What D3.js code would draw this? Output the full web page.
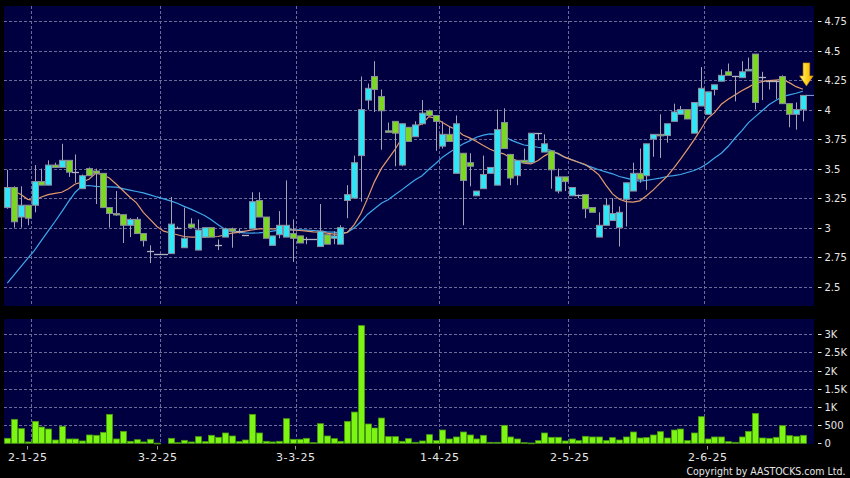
<!DOCTYPE html>
<html><head><meta charset="utf-8">
<script src="https://cdn.jsdelivr.net/npm/d3@7"></script>
<style>html,body{margin:0;padding:0;background:#000;}svg{display:block}</style>
</head><body>
<svg id="chart" width="850" height="478"></svg>
<script>
// ---------- DATA ----------
const dates = [
"2024-12-24","2024-12-27","2024-12-30","2024-12-31",
"2025-01-02","2025-01-03","2025-01-06","2025-01-07","2025-01-08","2025-01-09","2025-01-10","2025-01-13","2025-01-14","2025-01-15","2025-01-16","2025-01-17","2025-01-20","2025-01-21","2025-01-22","2025-01-23","2025-01-24","2025-01-27","2025-01-28",
"2025-02-03","2025-02-04","2025-02-05","2025-02-06","2025-02-07","2025-02-10","2025-02-11","2025-02-12","2025-02-13","2025-02-14","2025-02-17","2025-02-18","2025-02-19","2025-02-20","2025-02-21","2025-02-24","2025-02-25","2025-02-26","2025-02-27","2025-02-28",
"2025-03-03","2025-03-04","2025-03-05","2025-03-06","2025-03-07","2025-03-10","2025-03-11","2025-03-12","2025-03-13","2025-03-14","2025-03-17","2025-03-18","2025-03-19","2025-03-20","2025-03-21","2025-03-24","2025-03-25","2025-03-26","2025-03-27","2025-03-28","2025-03-31",
"2025-04-01","2025-04-02","2025-04-03","2025-04-07","2025-04-08","2025-04-09","2025-04-10","2025-04-11","2025-04-14","2025-04-15","2025-04-16","2025-04-17","2025-04-22","2025-04-23","2025-04-24","2025-04-25","2025-04-28","2025-04-29","2025-04-30",
"2025-05-02","2025-05-06","2025-05-07","2025-05-08","2025-05-09","2025-05-12","2025-05-13","2025-05-14","2025-05-15","2025-05-16","2025-05-19","2025-05-20","2025-05-21","2025-05-22","2025-05-23","2025-05-26","2025-05-27","2025-05-28","2025-05-29","2025-05-30",
"2025-06-02","2025-06-03","2025-06-04","2025-06-05","2025-06-06","2025-06-09","2025-06-10","2025-06-11","2025-06-12","2025-06-13","2025-06-16","2025-06-17","2025-06-18","2025-06-19","2025-06-20"
];
const open = [3.17,3.34,3.09,3.19,3.19,3.39,3.36,3.53,3.51,3.57,3.47,3.33,3.50,3.48,3.46,3.17,3.12,3.11,3.02,3.07,2.95,2.80,2.78,2.78,2.78,3.00,2.83,3.03,2.81,2.92,3.00,2.85,
2.92,2.99,2.97,2.94,2.99,3.23,3.09,2.85,2.94,2.92,2.95,2.93,2.90,2.90,2.84,2.94,2.91,2.86,3.23,3.25,3.61,4.08,4.28,4.11,3.82,3.90,
3.53,3.85,3.77,3.88,3.99,3.95,3.69,3.79,3.46,3.63,3.55,3.27,3.33,3.46,3.36,3.89,3.62,3.44,3.57,3.55,3.80,3.64,3.65,3.31,3.43,3.27,3.28,3.28,3.17,2.92,3.02,3.06,
3.00,3.24,3.31,3.46,3.44,3.75,3.79,3.78,3.90,3.96,4.00,3.80,4.03,3.96,4.17,4.24,4.32,4.285,4.27,4.33,4.47,4.28,4.245,4.245,4.28,4.05,3.96,4.00];
const high = [3.49,3.35,3.35,3.19,3.53,3.50,3.57,3.55,3.71,3.57,3.62,3.45,3.51,3.50,3.46,3.17,3.31,3.11,3.08,3.09,2.95,2.85,2.78,2.78,3.26,3.01,3.17,3.08,3.07,3.00,3.00,2.90,
3.00,3.00,2.99,2.94,3.30,3.30,3.09,2.93,3.14,3.40,3.07,2.93,2.92,2.90,3.20,2.94,2.97,3.02,3.36,3.61,4.28,4.22,4.41,4.17,3.89,3.90,
3.88,3.85,3.90,4.08,4.00,3.95,3.90,3.86,3.95,3.63,3.63,3.31,3.61,3.51,4.00,4.01,3.62,3.57,3.67,3.80,3.80,3.79,3.65,3.50,3.43,3.34,3.28,3.28,3.17,3.13,3.25,3.25,
3.18,3.38,3.55,3.67,3.71,3.79,3.96,3.88,4.05,4.03,4.00,4.06,4.36,4.15,4.21,4.34,4.39,4.285,4.41,4.44,4.47,4.32,4.245,4.245,4.29,4.05,4.06,4.12];
const low = [3.16,3.00,3.00,3.02,3.13,3.36,3.36,3.51,3.51,3.43,3.38,3.33,3.44,3.20,3.17,3.00,3.10,2.87,2.92,2.95,2.84,2.70,2.78,2.78,2.78,2.99,2.83,3.00,2.81,2.92,2.92,2.81,
2.92,2.83,2.95,2.94,2.99,3.09,2.91,2.85,2.91,2.92,2.71,2.87,2.86,2.90,2.84,2.86,2.86,2.86,3.08,3.25,3.22,4.00,3.98,3.66,3.81,3.52,
3.52,3.73,3.77,3.87,3.95,3.65,3.67,3.73,3.46,3.02,3.35,3.27,3.33,3.46,3.36,3.67,3.36,3.36,3.55,3.55,3.74,3.64,3.33,3.29,3.31,3.27,3.25,3.08,3.13,2.92,3.02,3.06,
2.84,3.01,3.31,3.38,3.32,3.60,3.59,3.72,3.90,3.96,3.92,3.80,4.03,3.96,4.12,4.24,4.29,4.07,4.27,4.33,4.00,4.08,4.17,4.09,4.05,3.85,3.83,3.90];
const close = [3.34,3.05,3.19,3.08,3.39,3.36,3.53,3.51,3.57,3.47,3.47,3.44,3.44,3.46,3.17,3.12,3.11,3.02,3.07,2.95,2.89,2.80,2.78,2.78,3.03,3.00,2.91,3.00,2.98,3.00,2.92,2.85,
2.99,2.97,2.97,2.94,3.22,3.09,2.91,2.93,3.02,3.02,2.91,2.87,2.90,2.90,2.97,2.86,2.93,3.00,3.28,3.55,4.00,4.18,4.17,3.99,3.81,3.80,
3.88,3.73,3.87,3.97,3.95,3.90,3.79,3.73,3.88,3.40,3.52,3.31,3.45,3.51,3.83,3.67,3.42,3.57,3.55,3.80,3.80,3.71,3.49,3.43,3.39,3.34,3.28,3.16,3.13,3.02,3.19,3.12,
3.13,3.38,3.46,3.41,3.71,3.79,3.78,3.88,3.98,4.00,3.92,4.06,4.18,4.15,4.21,4.29,4.29,4.285,4.32,4.34,4.06,4.28,4.245,4.245,4.05,3.96,4.00,4.12];
const volume = [137,659,403,37,604,448,393,91,467,119,119,64,229,220,302,796,119,329,55,100,37,110,5,0,137,18,82,37,183,46,220,165,
284,201,46,91,796,284,55,37,55,677,110,110,137,18,540,201,128,55,604,860,3239,531,421,695,183,183,
55,128,27,64,238,73,366,119,174,311,229,119,220,27,27,494,174,119,18,9,73,284,165,165,64,119,73,192,174,174,73,156,
91,174,311,146,156,229,320,146,366,393,73,284,732,119,174,174,46,27,174,329,823,146,137,165,485,210,192,220];
const ma10 = [3.205,3.31,3.28,3.24,3.23,3.26,3.28,3.29,3.30,3.33,3.37,3.385,3.41,3.46,3.45,3.42,3.37,3.315,3.26,3.21,3.13,3.07,3.01,2.97,2.955,2.94,2.925,2.92,2.92,2.92,2.923,2.925,
2.94,2.954,2.96,2.97,2.98,2.99,2.99,2.99,2.99,2.985,2.98,2.976,2.97,2.965,2.962,2.954,2.945,2.945,2.96,3.024,3.12,3.25,3.39,3.50,3.58,3.66,
3.757,3.81,3.855,3.88,3.94,3.926,3.89,3.856,3.83,3.785,3.76,3.73,3.695,3.664,3.64,3.625,3.59,3.566,3.546,3.54,3.566,3.608,3.64,3.63,3.597,3.574,3.554,3.535,3.495,3.447,3.363,3.286,
3.24,3.22,3.216,3.227,3.27,3.32,3.377,3.433,3.504,3.58,3.66,3.743,3.833,3.926,3.974,4.045,4.087,4.124,4.16,4.19,4.223,4.237,4.245,4.25,4.256,4.228,4.194,4.172];
const ma20 = [2.53,2.60,2.67,2.74,2.807,2.89,2.97,3.05,3.134,3.22,3.30,3.354,3.357,3.35,3.348,3.346,3.343,3.33,3.318,3.306,3.295,3.278,3.26,3.244,3.227,3.207,3.18,3.157,3.13,3.103,3.066,3.024,
2.987,2.968,2.96,2.956,2.954,2.956,2.962,2.97,2.979,2.982,2.982,2.982,2.979,2.976,2.97,2.965,2.962,2.956,2.96,2.996,3.05,3.114,3.16,3.207,3.236,3.278,3.32,
3.363,3.405,3.44,3.495,3.543,3.597,3.636,3.673,3.709,3.735,3.766,3.783,3.794,3.791,3.777,3.743,3.72,3.70,3.692,3.681,3.673,3.653,3.625,3.594,3.577,3.554,3.532,3.51,3.49,3.473,3.456,
3.433,3.419,3.405,3.394,3.40,3.41,3.42,3.433,3.44,3.45,3.467,3.484,3.51,3.546,3.59,3.63,3.687,3.757,3.82,3.89,3.94,3.99,4.04,4.076,4.11,4.124,4.138,4.155];

const priceTicks = [2.5,2.75,3,3.25,3.5,3.75,4,4.25,4.5,4.75];
const priceTickLabels = ["2.5","2.75","3","3.25","3.5","3.75","4","4.25","4.5","4.75"];
const volTicks = [0,500,1000,1500,2000,2500,3000];
const volTickLabels = ["0","500","1K","1.5K","2K","2.5K","3K"];
const dateTicks = ["2025-01-02","2025-02-03","2025-03-03","2025-04-01","2025-05-02","2025-06-02"];
const dateTickLabels = ["2-1-25","3-2-25","3-3-25","1-4-25","2-5-25","2-6-25"];
const copyright = "Copyright by AASTOCKS.com Ltd.";

// ---------- CHART ----------
const svg = d3.select("#chart");
const C = {bg:"#000000", panel:"#000040", grid:"#6c6c98", up:"#2ee6f6", down:"#7ad823",
  edge:"#8c8c9c", wick:"#a4a4b0", vol:"#7cf512", volEdge:"#4a9a10", ma10:"#e39a6c", ma20:"#3ea8ec", text:"#e6e6e6"};
const FONT = "'DejaVu Sans', Verdana, sans-serif";

svg.append("rect").attr("width",850).attr("height",478).attr("fill",C.bg);

const P = {x:4, y:6, w:810, h:300};
const V = {x:4, y:319, w:810, h:125};

const x = d3.scaleBand().domain(dates).range([3.9, 806.3]).padding(0);
const xl = d3.scaleBand().domain(dates).range([-4.2, 806.3]).padding(0);
const cx = d => x(d) + x.bandwidth()/2;
const y = d3.scaleLinear().domain([2.5,4.75]).range([286.7,21]);
const yv = d3.scaleLinear().domain([0,3000]).range([443.3,334.3]);

svg.append("rect").attr("x",P.x).attr("y",P.y).attr("width",P.w).attr("height",P.h).attr("fill",C.panel);
svg.append("rect").attr("x",V.x).attr("y",V.y).attr("width",V.w).attr("height",V.h).attr("fill",C.panel);

const grid = svg.append("g").attr("stroke",C.grid).attr("stroke-width",1).attr("stroke-dasharray","3,2").attr("fill","none");
priceTicks.forEach(t => {
  const yy = Math.round(y(t)) + 0.5;
  grid.append("line").attr("x1",P.x).attr("x2",P.x+P.w).attr("y1",yy).attr("y2",yy);
});
volTicks.filter(t=>t>0).forEach(t => {
  const yy = Math.round(yv(t)) + 0.5;
  grid.append("line").attr("x1",V.x).attr("x2",V.x+V.w).attr("y1",yy).attr("y2",yy);
});
dateTicks.forEach(d => {
  const xx = Math.round(x(d)) + 0.5;
  grid.append("line").attr("x1",xx).attr("x2",xx).attr("y1",P.y).attr("y2",P.y+P.h);
  grid.append("line").attr("x1",xx).attr("x2",xx).attr("y1",V.y).attr("y2",V.y+V.h);
});

// moving averages (drawn beneath candles)
const rows = dates.map((d,i)=>({d, o:open[i], h:high[i], l:low[i], c:close[i], v:volume[i], m10:ma10[i], m20:ma20[i]}));
svg.append("clipPath").attr("id","pclip").append("rect").attr("x",P.x).attr("y",P.y).attr("width",P.w).attr("height",P.h);
const pg = svg.append("g").attr("clip-path","url(#pclip)");
pg.append("path").datum(rows).attr("fill","none").attr("stroke",C.ma20).attr("stroke-width",1.2)
  .attr("d", d3.line().x(r=>cx(r.d)).y(r=>y(r.m20)));
pg.append("path").datum(rows).attr("fill","none").attr("stroke",C.ma10).attr("stroke-width",1.2)
  .attr("d", d3.line().x(r=>cx(r.d)).y(r=>y(r.m10)));

// candles
const bw = 6;
rows.forEach(r => {
  const xc = Math.round(cx(r.d)) + 0.5;
  pg.append("line").attr("x1",xc).attr("x2",xc).attr("y1",y(r.h)).attr("y2",y(r.l))
    .attr("stroke",C.wick).attr("stroke-width",1);
  if (r.o === r.c) {
    const yy = Math.round(y(r.c)) + 0.5;
    pg.append("line").attr("x1",xc-bw/2-0.5).attr("x2",xc+bw/2+0.5).attr("y1",yy).attr("y2",yy)
      .attr("stroke","#b4b4c0").attr("stroke-width",1.3);
  } else {
    const top = y(Math.max(r.o,r.c)), bot = y(Math.min(r.o,r.c));
    pg.append("rect").attr("x",xc-bw/2).attr("y",top).attr("width",bw).attr("height",Math.max(bot-top,1.5))
      .attr("fill", r.c > r.o ? C.up : C.down).attr("stroke",C.edge).attr("stroke-width",1);
  }
});

// last price marker line
const last = rows[rows.length-1];
svg.append("line").attr("x1",cx(last.d)+3).attr("x2",P.x+P.w).attr("y1",y(last.c)).attr("y2",y(last.c))
  .attr("stroke","#8ea6d6").attr("stroke-width",1);

// arrow above last candle
const defs = svg.append("defs");
const gr = defs.append("linearGradient").attr("id","arrowG").attr("x1","0").attr("x2","1").attr("y1","0").attr("y2","0");
gr.append("stop").attr("offset","0").attr("stop-color","#fff59a");
gr.append("stop").attr("offset","0.5").attr("stop-color","#ffd21e");
gr.append("stop").attr("offset","1").attr("stop-color","#f0a800");
const ax = cx(last.d) + 3.5, tipY = y(last.h) - 9.5;
svg.append("path").attr("fill","url(#arrowG)").attr("stroke","#c98a00").attr("stroke-width",0.6)
  .attr("d", `M${ax-3.3},${tipY-23} L${ax+3.3},${tipY-23} L${ax+3.3},${tipY-10} L${ax+6.8},${tipY-10} L${ax},${tipY} L${ax-6.8},${tipY-10} L${ax-3.3},${tipY-10} Z`);

// volume bars
const vg = svg.append("g");
rows.forEach(r => {
  if (r.v <= 0) return;
  const xc = Math.round(cx(r.d));
  const top = yv(r.v), bot = yv(0);
  vg.append("rect").attr("x",xc-bw/2+0.5).attr("y",top).attr("width",bw).attr("height",Math.max(bot-top,0.8))
    .attr("fill",C.vol).attr("stroke",C.volEdge).attr("stroke-width",0.8);
});

// right axes
const ag = svg.append("g").attr("font-family",FONT).attr("font-size","10px").attr("fill",C.text);
priceTicks.forEach((t,i) => {
  const yy = Math.round(y(t)) + 0.5;
  ag.append("line").attr("x1",818).attr("x2",821.5).attr("y1",yy).attr("y2",yy).attr("stroke",C.text);
  ag.append("text").attr("x",824.5).attr("y",yy).attr("dy","0.36em").text(priceTickLabels[i]);
});
volTicks.forEach((t,i) => {
  const yy = Math.round(yv(t)) + 0.5;
  ag.append("line").attr("x1",818).attr("x2",821.5).attr("y1",yy).attr("y2",yy).attr("stroke",C.text);
  ag.append("text").attr("x",824.5).attr("y",yy).attr("dy","0.36em").text(volTickLabels[i]);
});

// date axis
const dg = svg.append("g").attr("font-family",FONT).attr("font-size","11px").attr("fill",C.text);
dateTicks.forEach((d,i) => {
  const xx = Math.round(xl(d) + xl.bandwidth()/2) + 0.5;
  dg.append("line").attr("x1",xx).attr("x2",xx).attr("y1",446).attr("y2",449.5).attr("stroke","#9a9a9a");
  dg.append("text").attr("x",xx - 19.5).attr("y",460.5).attr("textLength",39).attr("lengthAdjust","spacing")
    .text(dateTickLabels[i]);
});

// copyright (horizontally condensed like the original)
const cw = 159, cfs = 11;
const ct = svg.append("text").attr("font-family",FONT).attr("font-size",cfs+"px").attr("fill",C.text).text(copyright);
const natural = ct.node().getComputedTextLength();
const sx = cw / natural;
ct.attr("transform",`translate(686.5,474.5) scale(${sx},1)`);
</script>
</body></html>
